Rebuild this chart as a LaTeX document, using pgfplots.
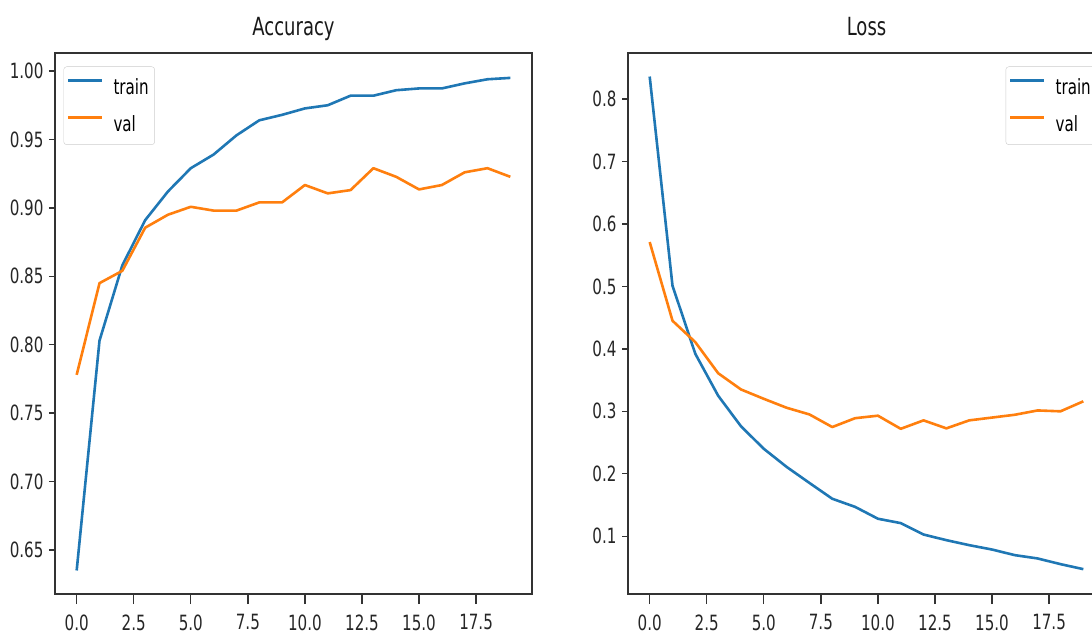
\documentclass[border=0pt]{standalone}
\usepackage{fontspec}
\setmainfont{DejaVu Sans}[FakeStretch=0.72]
\usepackage{pgfplots}
\pgfplotsset{compat=1.18}
\definecolor{tabblue}{HTML}{1F77B4}
\definecolor{taborange}{HTML}{FF7F0E}
\pgfplotsset{
 mpl legend/.style={legend image code/.code={\draw[##1, line width=2.8pt] (0pt,7pt) -- (34pt,7pt);}},
 myax/.style={
  scale only axis, width=477pt, height=541pt, anchor=south west,
  xmin=-0.95, xmax=19.95,
  xtick={0,2.5,5,7.5,10,12.5,15,17.5},
  xticklabel style={/tikz/yshift=-11pt, /pgf/number format/.cd,fixed,fixed zerofill,precision=1},
  /pgf/number format/assume math mode=true,
  tick align=outside, tick pos=left, major tick length=6pt,
  xtick style={/pgfplots/major tick length=10pt},
  axis line style={line width=1.3pt, black!80},
  every tick/.style={line width=1.3pt, black!80},
  tick label style={font=\fontsize{21}{24}\selectfont, text=black!85},
  yticklabel style={/tikz/xshift=-2pt},
  title style={font=\fontsize{25}{30}\selectfont, text=black!90, text depth=6pt, yshift=2pt},
  legend cell align=left,
  legend style={draw=black!20, rounded corners=3pt, fill=white, fill opacity=0.8, text opacity=1,
    font=\fontsize{21}{24}\selectfont, inner xsep=3pt, inner ysep=6pt, row sep=8pt, column sep=7pt,
    nodes={inner sep=3pt, text height=19pt, text depth=4pt}},
  every axis plot/.append style={line width=2.6pt, line join=round},
}}
\begin{document}
\begin{tikzpicture}
\useasboundingbox (0,0) rectangle (1092pt,630pt);
\clip (0,0) rectangle (1092pt,630pt);
\begin{axis}[myax, at={(55pt,36pt)},
  title={Accuracy},
  ymin=0.6178, ymax=1.0132,
  ytick={0.65,0.70,0.75,0.80,0.85,0.90,0.95,1.00},
  yticklabel style={/pgf/number format/.cd,fixed,fixed zerofill,precision=2},
  legend style={at={(axis description cs:0,1)}, anchor=north west, xshift=8.5pt, yshift=-13.5pt}]
\addplot[tabblue, mpl legend] coordinates {(0,0.635) (1,0.803) (2,0.858) (3,0.891) (4,0.912) (5,0.929) (6,0.939) (7,0.953) (8,0.964) (9,0.968) (10,0.9727) (11,0.975) (12,0.982) (13,0.982) (14,0.986) (15,0.9873) (16,0.9873) (17,0.991) (18,0.994) (19,0.995)};
\addlegendentry{train}
\addplot[taborange, mpl legend] coordinates {(0,0.778) (1,0.845) (2,0.854) (3,0.8855) (4,0.895) (5,0.9008) (6,0.898) (7,0.898) (8,0.904) (9,0.904) (10,0.9167) (11,0.9106) (12,0.913) (13,0.929) (14,0.9227) (15,0.9135) (16,0.9167) (17,0.926) (18,0.929) (19,0.9227)};
\addlegendentry{val}
\end{axis}
\begin{axis}[myax, at={(628pt,36pt)},
  title={Loss},
  ymin=0.0075, ymax=0.8737,
  ytick={0.1,0.2,0.3,0.4,0.5,0.6,0.7,0.8},
  yticklabel style={/pgf/number format/.cd,fixed,fixed zerofill,precision=1},
  legend style={at={(axis description cs:1,1)}, anchor=north east, xshift=-8pt, yshift=-13.5pt}]
\addplot[tabblue, mpl legend] coordinates {(0,0.836) (1,0.501) (2,0.392) (3,0.325) (4,0.276) (5,0.240) (6,0.211) (7,0.1853) (8,0.160) (9,0.147) (10,0.128) (11,0.121) (12,0.1027) (13,0.0937) (14,0.0857) (15,0.0787) (16,0.0697) (17,0.0644) (18,0.0553) (19,0.0473)};
\addlegendentry{train}
\addplot[taborange, mpl legend] coordinates {(0,0.571) (1,0.445) (2,0.4107) (3,0.361) (4,0.335) (5,0.320) (6,0.3057) (7,0.295) (8,0.2748) (9,0.289) (10,0.293) (11,0.272) (12,0.2855) (13,0.2727) (14,0.2855) (15,0.290) (16,0.2945) (17,0.3014) (18,0.300) (19,0.316)};
\addlegendentry{val}
\end{axis}
\end{tikzpicture}
\end{document}
